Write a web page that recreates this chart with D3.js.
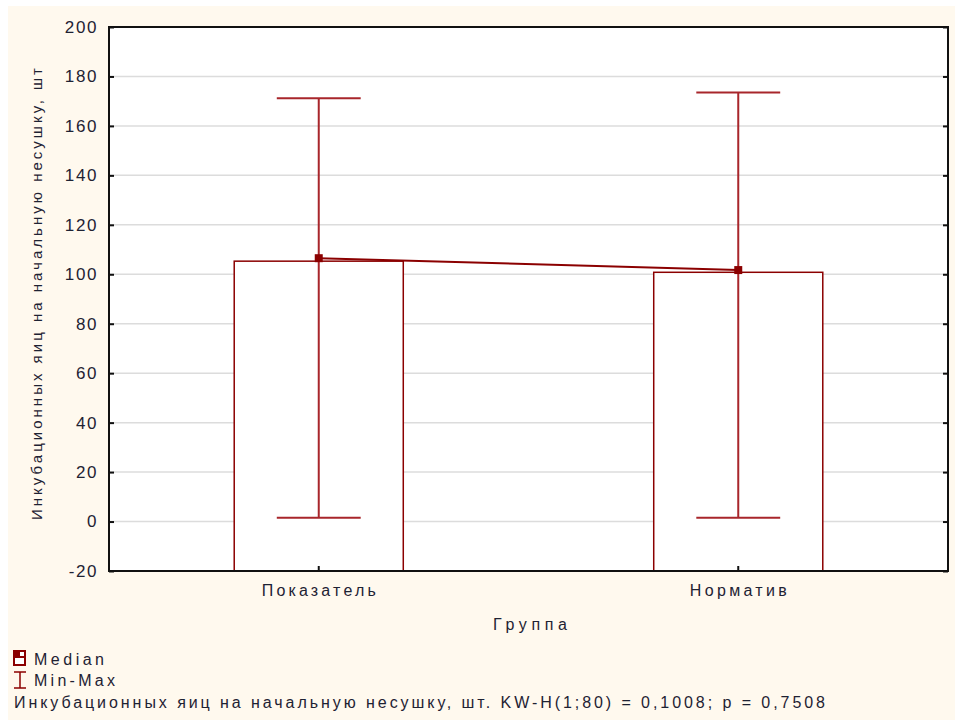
<!DOCTYPE html>
<html><head><meta charset="utf-8">
<script src="https://cdn.jsdelivr.net/npm/d3@7"></script>
<style>
body{margin:0;background:#fff;}
text{font-family:"Liberation Sans",Arial,sans-serif;fill:#1e2233;}
</style></head><body>
<svg id="c" width="955" height="720"></svg>
<script>
const categories = ["Показатель", "Норматив"];
const barValues = [105.3, 100.8];
const medians = [106.5, 101.7];
const minValues = [1.5, 1.5];
const maxValues = [171.2, 173.5];
const yTicks = [-20, 0, 20, 40, 60, 80, 100, 120, 140, 160, 180, 200];

const svg = d3.select("#c");
svg.append("rect").attr("x",8).attr("y",6).attr("width",947).attr("height",714).attr("fill","#fff9ee");

const L=109, R=948, T=27, B=571;
const x = d3.scaleBand().domain(categories).range([L,R]);
const y = d3.scaleLinear().domain([-20,200]).range([B,T]);
const red = "#8b0000";

svg.append("rect").attr("x",L).attr("y",T).attr("width",R-L).attr("height",B-T).attr("fill","#fff");
// grid
svg.append("g").selectAll("line").data(yTicks.slice(1,-1)).join("line")
  .attr("x1",L).attr("x2",R).attr("y1",d=>y(d)).attr("y2",d=>y(d))
  .attr("stroke","#dcdcdc").attr("stroke-width",1.5);

const bw = x.bandwidth()*0.403;
const cx = d => x(d)+x.bandwidth()/2;
// bars
svg.append("g").selectAll("rect").data(categories).join("rect")
  .attr("x",d=>cx(d)-bw/2).attr("width",bw)
  .attr("y",(d,i)=>y(barValues[i])).attr("height",(d,i)=>y(-20)-y(barValues[i]))
  .attr("fill","#fff").attr("stroke",red).attr("stroke-width",1.5);

// whiskers
const cap = x.bandwidth()*0.1;
const wg = svg.append("g").attr("stroke","#a8262b").attr("stroke-width",2);
categories.forEach((c,i)=>{
  wg.append("line").attr("x1",cx(c)).attr("x2",cx(c)).attr("y1",y(minValues[i])).attr("y2",y(maxValues[i]));
  wg.append("line").attr("x1",cx(c)-cap).attr("x2",cx(c)+cap).attr("y1",y(maxValues[i])).attr("y2",y(maxValues[i]));
  wg.append("line").attr("x1",cx(c)-cap).attr("x2",cx(c)+cap).attr("y1",y(minValues[i])).attr("y2",y(minValues[i]));
});

// median connecting line
svg.append("path").datum(categories)
  .attr("d", d3.line().x(d=>cx(d)).y((d,i)=>y(medians[i])))
  .attr("fill","none").attr("stroke",red).attr("stroke-width",2);
// median markers
svg.append("g").selectAll("rect").data(categories).join("rect")
  .attr("x",d=>cx(d)-4).attr("y",(d,i)=>y(medians[i])-4).attr("width",8).attr("height",8)
  .attr("fill",red);

// frame
svg.append("rect").attr("x",L).attr("y",T).attr("width",R-L).attr("height",B-T)
  .attr("fill","none").attr("stroke","#111").attr("stroke-width",2);

// axes
const yl = svg.append("g").attr("transform",`translate(${L},0)`)
  .call(d3.axisLeft(y).tickValues(yTicks).tickSize(-5).tickPadding(11).tickFormat(d=>String(d)));
yl.select(".domain").remove();
yl.selectAll("line").attr("stroke","#111").attr("stroke-width",2);
yl.selectAll("text").attr("font-size",17).attr("letter-spacing","1.6px").style("fill","#1e2233");

const yr = svg.append("g").attr("transform",`translate(${R},0)`)
  .call(d3.axisRight(y).tickValues(yTicks).tickSize(-5).tickFormat(""));
yr.select(".domain").remove();
yr.selectAll("line").attr("stroke","#111").attr("stroke-width",2);

const xb = svg.append("g").attr("transform",`translate(0,${B})`)
  .call(d3.axisBottom(x).tickSize(-5).tickPadding(14));
xb.select(".domain").remove();
xb.selectAll("line").attr("stroke","#111").attr("stroke-width",2);
const xLabelLen = {"Показатель":114, "Норматив":97};
xb.selectAll("text").attr("font-size",16).style("fill","#1e2233")
  .attr("textLength",d=>xLabelLen[d]).attr("lengthAdjust","spacing");

// titles
svg.append("text").attr("x",530).attr("y",630).attr("text-anchor","middle")
  .attr("font-size",16).attr("textLength",74).attr("lengthAdjust","spacing").text("Группа");
svg.append("text").attr("transform",`translate(42,294) rotate(-90)`).attr("text-anchor","middle")
  .attr("font-size",15).attr("textLength",452).attr("lengthAdjust","spacing")
  .text("Инкубационных яиц на начальную несушку, шт");

// legend
const lg = svg.append("g");
lg.append("rect").attr("x",14).attr("y",651).attr("width",11).attr("height",14).attr("fill","#fff").attr("stroke",red).attr("stroke-width",2);
lg.append("rect").attr("x",14).attr("y",651).attr("width",11).attr("height",7).attr("fill",red);
lg.append("rect").attr("x",20).attr("y",652).attr("width",4).attr("height",4).attr("fill","#fff");
lg.append("text").attr("x",34).attr("y",665).attr("font-size",16).attr("textLength",70).attr("lengthAdjust","spacing").text("Median");
const eb = lg.append("g").attr("stroke",red).attr("stroke-width",1.5);
eb.append("line").attr("x1",14).attr("x2",26).attr("y1",672).attr("y2",672);
eb.append("line").attr("x1",14).attr("x2",26).attr("y1",688).attr("y2",688);
eb.append("line").attr("x1",20).attr("x2",20).attr("y1",672).attr("y2",688);
lg.append("text").attr("x",34).attr("y",686).attr("font-size",16).attr("textLength",81).attr("lengthAdjust","spacing").text("Min-Max");
lg.append("text").attr("x",14).attr("y",708).attr("font-size",16).attr("textLength",811).attr("lengthAdjust","spacing")
  .text("Инкубационных яиц на начальную несушку, шт. KW-H(1;80) = 0,1008; p = 0,7508");
</script>
</body></html>
